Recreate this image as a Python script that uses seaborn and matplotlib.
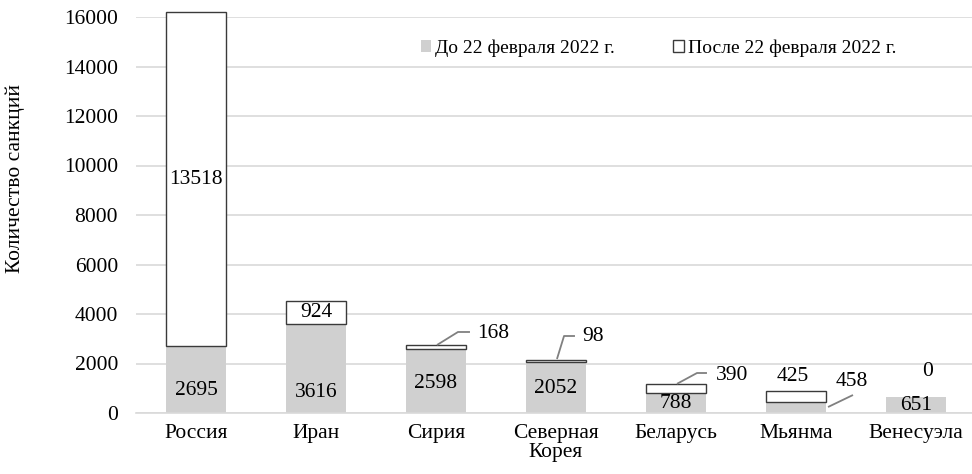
import matplotlib
matplotlib.use("Agg")
import matplotlib.pyplot as plt
import seaborn as sns
import pandas as pd
import numpy as np
from matplotlib.patches import Patch

# ---- data ----
categories = ["Россия", "Иран", "Сирия", "Северная\nКорея", "Беларусь", "Мьянма", "Венесуэла"]
before = [2695, 3616, 2598, 2052, 788, 458, 651]
after = [13518, 924, 168, 98, 390, 425, 0]
series_names = ["До 22 февраля 2022 г.", "После 22 февраля 2022 г."]
y_ticks = [0, 2000, 4000, 6000, 8000, 10000, 12000, 14000, 16000]
y_label = "Количество санкций"

sns.set_theme(style="white")
plt.rcParams["font.family"] = "serif"
plt.rcParams["font.serif"] = ["Liberation Serif", "DejaVu Serif"]
plt.rcParams["text.color"] = "black"

GRAY = "#d0d0d0"
EDGE = "#3a3a3a"
FS = 15.5
FAM = "Liberation Serif"

fig = plt.figure(figsize=(9.72, 4.74), dpi=100)
ax = fig.add_axes([136 / 972, 61 / 474, 840 / 972, 396 / 474])

df = pd.DataFrame({"cat": categories, "before": before, "after": after})
sns.barplot(data=df, x="cat", y="before", color=GRAY, width=0.5,
            saturation=1, edgecolor="none", linewidth=0, ax=ax, zorder=2)

xs = np.arange(len(categories))
for xi, b, a in zip(xs, before, after):
    if a > 0:
        ax.bar(xi, a, bottom=b, width=0.5, color="white", edgecolor=EDGE,
               linewidth=1.0, zorder=3, clip_on=False)

ax.set_xlim(-0.5, len(categories) - 0.5)
ax.set_ylim(0, 16000)
ax.set_yticks(y_ticks)
ax.set_yticklabels([str(t) for t in y_ticks], fontsize=FS, color="black", family=FAM)
ax.set_xticks(xs)
ax.set_xticklabels(categories, fontsize=FS, color="black", linespacing=1.0, family=FAM)
ax.tick_params(axis="both", length=0)
ax.tick_params(axis="y", pad=13)
ax.tick_params(axis="x", pad=8)
ax.set_xlabel("")
ax.set_ylabel("")
ax.grid(axis="y", color="#d9d9d9", linewidth=1.2, zorder=0)
ax.set_axisbelow(True)
for s in ["top", "right", "left"]:
    ax.spines[s].set_visible(False)
ax.spines["bottom"].set_color("#d9d9d9")
ax.spines["bottom"].set_linewidth(1.2)

fig.text(15 / 972, 1 - 178 / 474, y_label, rotation=90, fontsize=FS,
         ha="center", va="center", family=FAM)

# ---- data labels (layout) ----
inside_gray = {0: 889, 1: 848, 2: 1212, 3: 1010, 4: 364, 6: 323}
for i, ypos in inside_gray.items():
    ax.text(xs[i], ypos, str(before[i]), ha="center", va="center", fontsize=FS,
            zorder=5, family=FAM)

for i in [0, 1]:
    ax.text(xs[i], before[i] + after[i] / 2, str(after[i]), ha="center", va="center",
            fontsize=FS, zorder=5, family=FAM)

ax.text(xs[5] - 0.03, 1455, str(after[5]), ha="center", va="center", fontsize=FS, family=FAM)
ax.text(xs[6] + 0.1, 1657, str(after[6]), ha="center", va="center", fontsize=FS, family=FAM)

LINE = "#808080"
leaders = [
    (2, after[2], (0.475, 3232), [(0.008, 2747), (0.183, 3273), (0.283, 3273)]),
    (3, after[3], (0.308, 3071), [(0.008, 2182), (0.067, 3111), (0.158, 3111)]),
    (4, after[4], (0.467, 1535), [(0.008, 1178), (0.175, 1616), (0.258, 1616)]),
    (5, before[5], (0.467, 1253), [(0.267, 242), (0.475, 727)]),
]
for i, val, (tx, ty), pts in leaders:
    ax.plot([xs[i] + p[0] for p in pts], [p[1] for p in pts], color=LINE,
            linewidth=1.3, zorder=4, solid_capstyle="butt")
    ax.text(xs[i] + tx, ty, str(val), ha="center", va="center", fontsize=FS, family=FAM)

handles = [Patch(facecolor=GRAY, edgecolor="none"),
           Patch(facecolor="white", edgecolor=EDGE, linewidth=1.0)]
leg = ax.legend(handles, series_names, loc="center", bbox_to_anchor=(0.622, 0.922),
                ncol=2, frameon=False, prop={"family": FAM, "size": 14},
                handlelength=0.55, handleheight=0.55,
                handletextpad=0.2, columnspacing=3.0, borderaxespad=0)

fig.savefig("out.png", dpi=100)
